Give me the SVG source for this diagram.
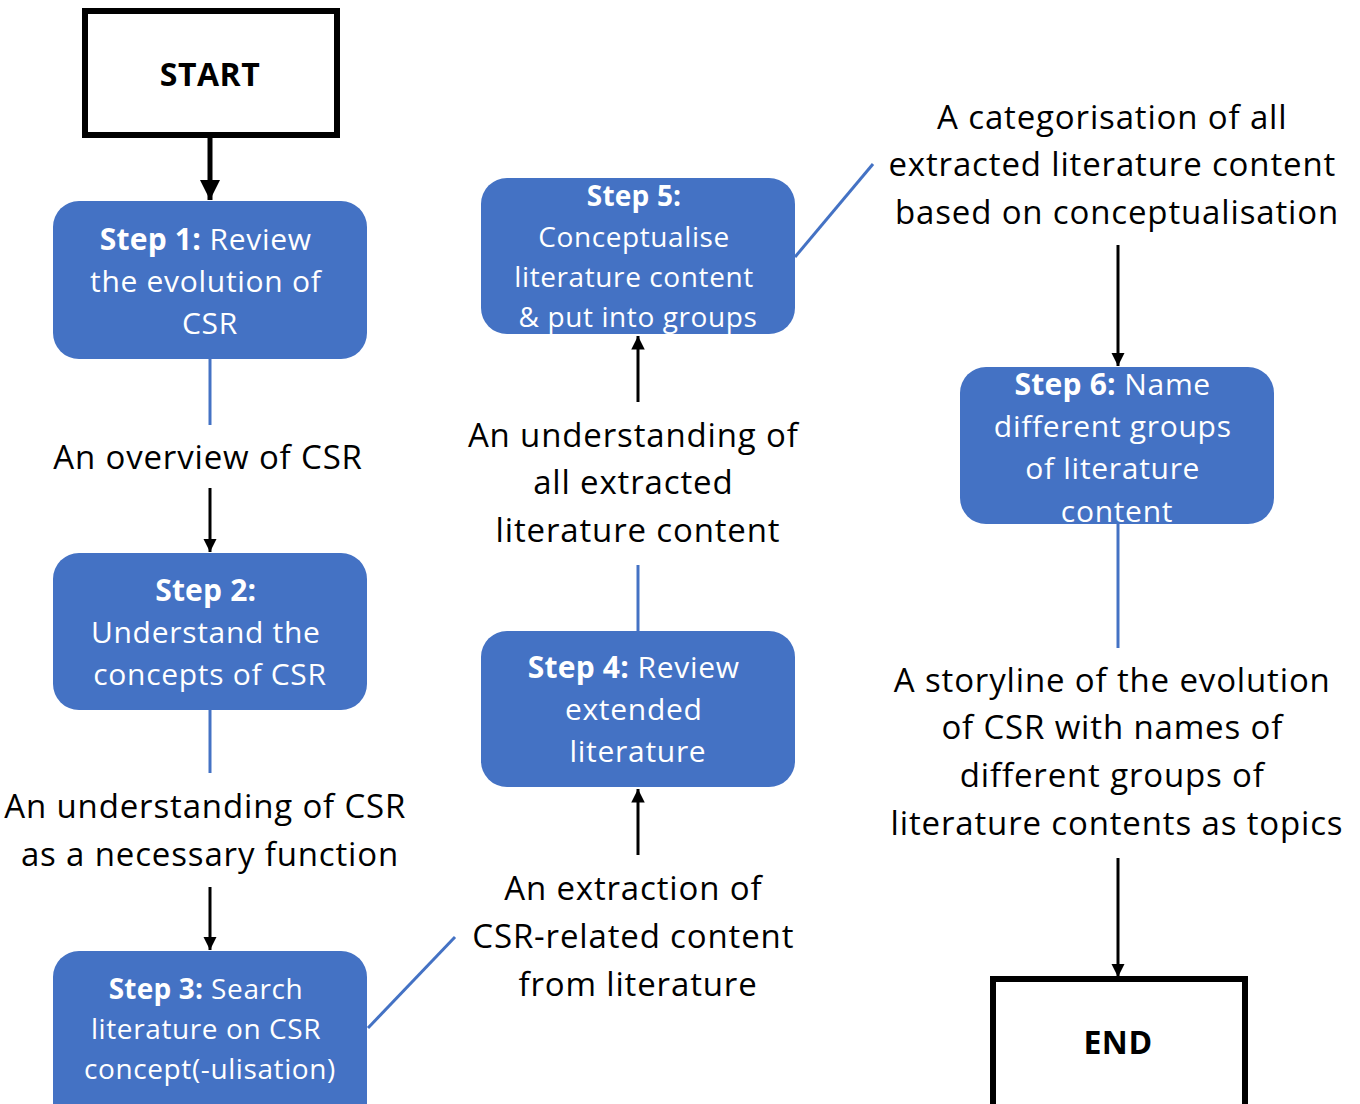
<svg xmlns="http://www.w3.org/2000/svg" width="1360" height="1104" viewBox="0 0 1360 1104">
  <style>
    .term { fill: #fff; stroke: #000; stroke-width: 6; }
    .term-label { font-family: "Open Sans", "Liberation Sans", sans-serif; font-size: 32px; font-weight: bold; fill: #000; text-anchor: middle; letter-spacing: 0.5px; }
    .step { fill: #4472C4; }
    .step-label { font-family: "Open Sans", "Liberation Sans", sans-serif; font-size: 30px; fill: #fff; text-anchor: middle; letter-spacing: 0.7px; }
    .step-label .b { font-weight: bold; letter-spacing: 0.2px; }
    .step-label.small { font-size: 28px; letter-spacing: 0.6px; }
    .note { font-family: "Open Sans", "Liberation Sans", sans-serif; font-size: 33px; fill: #000; text-anchor: middle; letter-spacing: 0.85px; }
    .arrow { stroke: #000; stroke-width: 3; fill: none; marker-end: url(#head); }
    .arrow-thick { stroke: #000; stroke-width: 5; fill: none; marker-end: url(#head-big); }
    .link { stroke: #4472C4; stroke-width: 3; fill: none; }
  </style>
  <defs>
    <marker id="head" viewBox="0 0 10 10" refX="10" refY="5" markerWidth="4.5" markerHeight="4.5" orient="auto" markerUnits="strokeWidth">
      <path d="M0,0 L10,5 L0,10 z" fill="#000"/>
    </marker>
    <marker id="head-big" viewBox="0 0 10 10" refX="10" refY="5" markerWidth="4" markerHeight="4" orient="auto" markerUnits="strokeWidth">
      <path d="M0,0 L10,5 L0,10 z" fill="#000"/>
    </marker>
  </defs>

  <rect width="1360" height="1104" fill="#fff"/>

  <!-- connectors -->
  <g id="connectors">
    <line class="arrow-thick" x1="210" y1="138" x2="210" y2="200"/>
    <line class="link" x1="210" y1="359" x2="210" y2="425"/>
    <line class="arrow" x1="210" y1="488" x2="210" y2="552"/>
    <line class="link" x1="210" y1="710" x2="210" y2="773"/>
    <line class="arrow" x1="210" y1="887" x2="210" y2="950"/>
    <line class="link" x1="368" y1="1028" x2="455" y2="937"/>
    <line class="arrow" x1="638" y1="855" x2="638" y2="789"/>
    <line class="link" x1="638" y1="565" x2="638" y2="631"/>
    <line class="arrow" x1="638" y1="402" x2="638" y2="336"/>
    <line class="link" x1="795" y1="257" x2="873" y2="164"/>
    <line class="arrow" x1="1118" y1="245" x2="1118" y2="366"/>
    <line class="link" x1="1118" y1="524" x2="1118" y2="648"/>
    <line class="arrow" x1="1118" y1="858" x2="1118" y2="977"/>
  </g>

  <!-- terminals -->
  <g id="start">
    <rect class="term" x="85" y="11" width="252" height="124"/>
    <text class="term-label" x="210" y="86">START</text>
  </g>
  <g id="end">
    <rect class="term" x="993" y="979" width="252" height="130"/>
    <text class="term-label" x="1118" y="1054">END</text>
  </g>

  <!-- process steps -->
  <g id="step1">
    <rect class="step" x="53" y="201" width="314" height="158" rx="26"/>
    <text class="step-label">
      <tspan x="210" y="250"><tspan class="b">Step 1:</tspan> Review</tspan>
      <tspan x="210" y="292">the evolution of</tspan>
      <tspan x="210" y="334">CSR</tspan>
    </text>
  </g>
  <g id="step2">
    <rect class="step" x="53" y="553" width="314" height="157" rx="26"/>
    <text class="step-label">
      <tspan x="210" y="601" class="b">Step 2:</tspan>
      <tspan x="210" y="643">Understand the</tspan>
      <tspan x="210" y="685">concepts of CSR</tspan>
    </text>
  </g>
  <g id="step3">
    <rect class="step" x="53" y="951" width="314" height="180" rx="26"/>
    <text class="step-label small">
      <tspan x="210" y="999"><tspan class="b">Step 3:</tspan> Search</tspan>
      <tspan x="210" y="1039">literature on CSR</tspan>
      <tspan x="210" y="1079">concept(-ulisation)</tspan>
    </text>
  </g>
  <g id="step4">
    <rect class="step" x="481" y="631" width="314" height="156" rx="26"/>
    <text class="step-label">
      <tspan x="638" y="678"><tspan class="b">Step 4:</tspan> Review</tspan>
      <tspan x="638" y="720">extended</tspan>
      <tspan x="638" y="762">literature</tspan>
    </text>
  </g>
  <g id="step5">
    <rect class="step" x="481" y="178" width="314" height="156" rx="26"/>
    <text class="step-label small">
      <tspan x="638" y="206" class="b">Step 5:</tspan>
      <tspan x="638" y="247">Conceptualise</tspan>
      <tspan x="638" y="287">literature content</tspan>
      <tspan x="638" y="327">&amp; put into groups</tspan>
    </text>
  </g>
  <g id="step6">
    <rect class="step" x="960" y="367" width="314" height="157" rx="26"/>
    <text class="step-label">
      <tspan x="1117" y="395"><tspan class="b">Step 6:</tspan> Name</tspan>
      <tspan x="1117" y="437">different groups</tspan>
      <tspan x="1117" y="479">of literature</tspan>
      <tspan x="1117" y="522">content</tspan>
    </text>
  </g>

  <!-- outcome notes -->
  <g id="outcome1">
    <text class="note" x="208" y="469">An overview of CSR</text>
  </g>
  <g id="outcome2">
    <text class="note">
      <tspan x="210" y="818">An understanding of CSR</tspan>
      <tspan x="210" y="866">as a necessary function</tspan>
    </text>
  </g>
  <g id="outcome3">
    <text class="note">
      <tspan x="638" y="900">An extraction of</tspan>
      <tspan x="638" y="948">CSR-related content</tspan>
      <tspan x="638" y="996">from literature</tspan>
    </text>
  </g>
  <g id="outcome4">
    <text class="note">
      <tspan x="638" y="447">An understanding of</tspan>
      <tspan x="638" y="494">all extracted</tspan>
      <tspan x="638" y="542">literature content</tspan>
    </text>
  </g>
  <g id="outcome5">
    <text class="note">
      <tspan x="1117" y="129">A categorisation of all</tspan>
      <tspan x="1117" y="176">extracted literature content</tspan>
      <tspan x="1117" y="224">based on conceptualisation</tspan>
    </text>
  </g>
  <g id="outcome6">
    <text class="note">
      <tspan x="1117" y="692">A storyline of the evolution</tspan>
      <tspan x="1117" y="739">of CSR with names of</tspan>
      <tspan x="1117" y="787">different groups of</tspan>
      <tspan x="1117" y="835">literature contents as topics</tspan>
    </text>
  </g>
</svg>
